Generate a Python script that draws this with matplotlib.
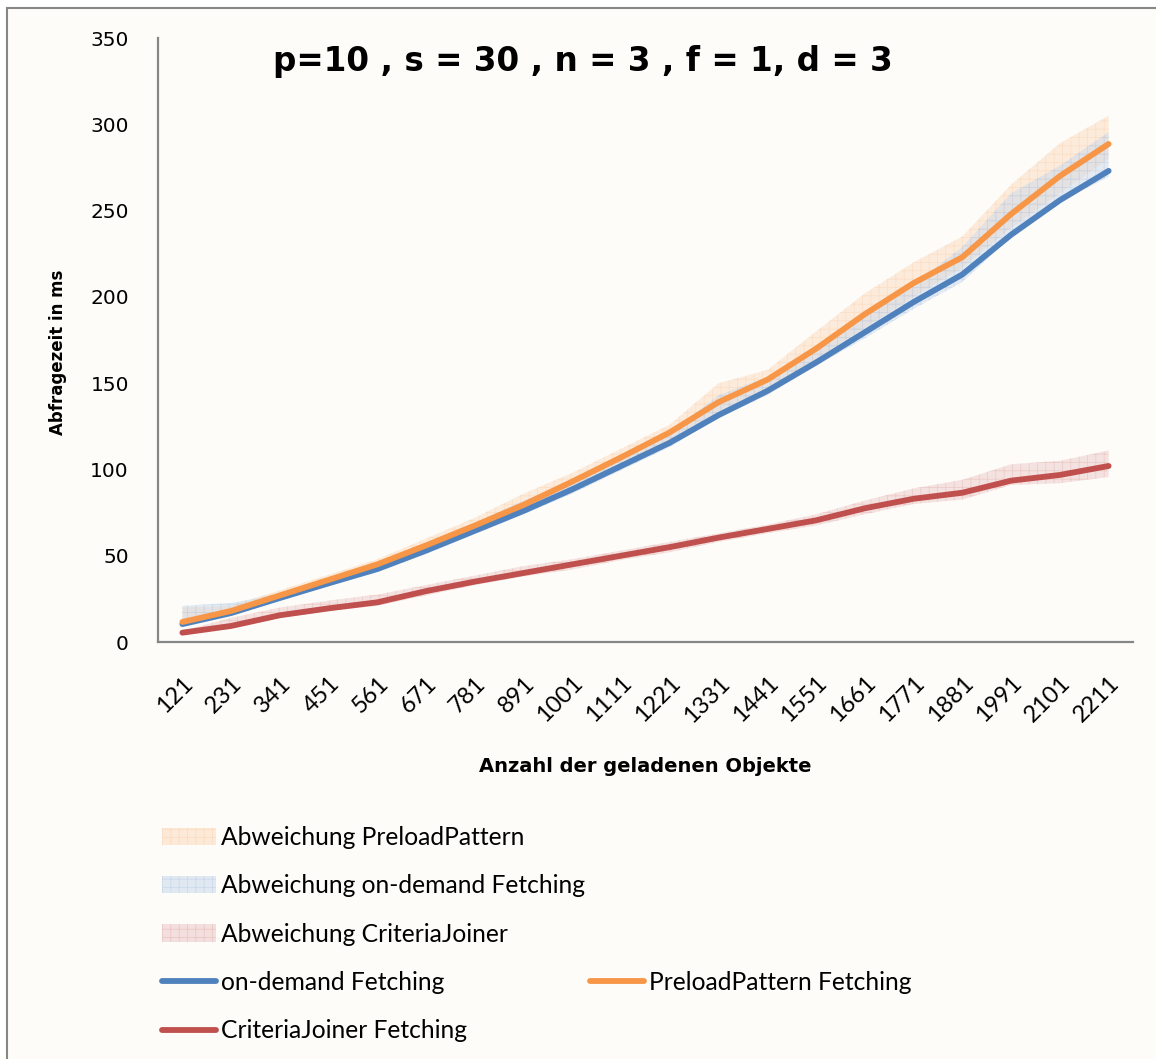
import numpy as np
import matplotlib
matplotlib.use("Agg")
import matplotlib.pyplot as plt
from matplotlib.patches import Rectangle, Patch
from matplotlib.lines import Line2D

# Anzahl der geladenen Objekte
objekte = [121, 231, 341, 451, 561, 671, 781, 891, 1001, 1111,
           1221, 1331, 1441, 1551, 1661, 1771, 1881, 1991, 2101, 2211]

# mittlere Abfragezeit in ms
on_demand = [10.4, 16.8, 25.5, 34, 42.3, 53, 64.5, 76, 88.5, 102,
             115.5, 131.5, 145.5, 162, 179.5, 197, 213, 236, 256, 273]
preload = [11.6, 18, 27, 36, 45, 56, 67.5, 79.5, 93, 107,
           121.5, 139, 152, 170, 190, 208, 223, 248, 270, 288.6]
criteria = [5.4, 9.3, 15.5, 19.5, 23, 29.5, 35, 40, 45, 50,
            55, 60.5, 65.5, 70.5, 77.5, 83, 86.5, 93.5, 96.8, 102]

# Abweichung (min / max)
preload_lo = [10, 16, 24, 33, 42, 52, 63, 75, 88, 102,
              116, 133, 147, 164, 182, 200, 217, 240, 260, 280]
preload_hi = [20, 21, 30, 39, 48, 60, 72, 86, 98, 112,
              126, 150, 157.6, 180, 202, 220, 235, 265, 289, 305]
on_demand_lo = [8.5, 15, 24, 32.5, 40.5, 51, 62.5, 74, 86, 99.5,
                113, 129.8, 143, 160, 176, 193, 208.6, 234.7, 255, 269.5]
on_demand_hi = [21, 22.6, 28, 36, 46, 57, 69, 82, 93, 106,
                121, 143, 153.6, 170, 190, 207, 229, 260, 276, 295.5]
criteria_lo = [4, 8, 14, 18, 21, 27, 33, 38, 42, 47.5,
               52, 58, 63, 67.5, 74, 80, 82.5, 91, 92, 95.6]
criteria_hi = [6.5, 14, 20, 24, 27.5, 33, 38.5, 44, 48, 53,
               58, 63, 68, 74, 82, 89, 94, 103, 105, 111]

blau = "#4F81BD"
orange = "#F79646"
rot = "#C0504D"
grau = "#868686"
hintergrund = "#FDFCF8"

# Flaechen: (Fuellfarbe, Schraffurfarbe)
band_p_farbe = ("#FBD3B0", "#F9C8A0")
band_o_farbe = ("#C5D6EB", "#AFC6E3")
band_c_farbe = ("#EBC4C3", "#E0AAA8")

plt.rcParams["hatch.linewidth"] = 0.5

fig = plt.figure(figsize=(11.56, 10.59), dpi=100, facecolor="white")
fig.patches.append(Rectangle((7 / 1156, -0.1), 1.2, 1.1 - 8 / 1059,
                             transform=fig.transFigure, facecolor=hintergrund,
                             edgecolor=grau, linewidth=1.5, zorder=-10))

ax = fig.add_axes([158 / 1156, 1 - 642 / 1059, (1133 - 158) / 1156, (642 - 38) / 1059])
ax.set_facecolor("none")

x = np.arange(len(objekte))

ax.fill_between(x, preload_lo, preload_hi, facecolor=band_p_farbe[0], alpha=0.4,
                edgecolor=band_p_farbe[1], hatch="++", linewidth=0)
ax.fill_between(x, on_demand_lo, on_demand_hi, facecolor=band_o_farbe[0], alpha=0.45,
                edgecolor=band_o_farbe[1], hatch="++", linewidth=0)
ax.fill_between(x, criteria_lo, criteria_hi, facecolor=band_c_farbe[0], alpha=0.45,
                edgecolor=band_c_farbe[1], hatch="++", linewidth=0)

lw = 4.2
ax.plot(x, on_demand, color=blau, lw=lw, solid_capstyle="round", solid_joinstyle="round")
ax.plot(x, preload, color=orange, lw=lw, solid_capstyle="round", solid_joinstyle="round")
ax.plot(x, criteria, color=rot, lw=lw, solid_capstyle="round", solid_joinstyle="round")

ax.set_xlim(-0.5, len(objekte) - 0.5)
ax.set_ylim(0, 350)
ax.set_yticks(np.arange(0, 351, 50))
ax.set_xticks(x)
ax.set_xticklabels([str(v) for v in objekte], rotation=45, ha="right",
                   rotation_mode="anchor", fontsize=17, family="Lato")
ax.tick_params(axis="x", length=0, pad=22)
ax.tick_params(axis="y", length=0, pad=21, labelsize=14.5)
for lab in ax.get_yticklabels():
    lab.set_family("DejaVu Sans")

for side in ("top", "right"):
    ax.spines[side].set_visible(False)
for side in ("left", "bottom"):
    ax.spines[side].set_color(grau)
    ax.spines[side].set_linewidth(1.6)

fig.text(58 / 1156, 1 - 352 / 1059, "Abfragezeit in ms", rotation=90, ha="center",
         va="center", fontsize=12, fontweight="bold", family="DejaVu Sans")
fig.text(645 / 1156, 1 - 766 / 1059, "Anzahl der geladenen Objekte", ha="center",
         va="center", fontsize=14, fontweight="bold", family="DejaVu Sans")
fig.text(583 / 1156, 1 - 62 / 1059, "p=10 , s = 30 , n = 3 , f = 1, d = 3", ha="center",
         va="center", fontsize=23.5, fontweight="bold", family="DejaVu Sans")

leer = Line2D([], [], color="none")
handles = [
    Patch(facecolor=band_p_farbe[0], alpha=0.45, edgecolor=band_p_farbe[1], hatch="++", linewidth=0),
    Patch(facecolor=band_o_farbe[0], alpha=0.5, edgecolor=band_o_farbe[1], hatch="++", linewidth=0),
    Patch(facecolor=band_c_farbe[0], alpha=0.5, edgecolor=band_c_farbe[1], hatch="++", linewidth=0),
    Line2D([], [], color=blau, lw=lw, solid_capstyle="round"),
    Line2D([], [], color=rot, lw=lw, solid_capstyle="round"),
    leer, leer, leer,
    Line2D([], [], color=orange, lw=lw, solid_capstyle="round"),
    leer,
]
labels = ["Abweichung PreloadPattern", "Abweichung on-demand Fetching",
          "Abweichung CriteriaJoiner", "on-demand Fetching", "CriteriaJoiner Fetching",
          "", "", "", "PreloadPattern Fetching", ""]
fig.legend(handles, labels, ncol=2, loc="upper left",
           bbox_to_anchor=(162 / 1156, 1 - 826 / 1059), frameon=False,
           prop={"family": "Lato", "size": 17.7}, handlelength=2.2, handleheight=0.7,
           handletextpad=0.2, labelspacing=1.03, columnspacing=0.2, borderpad=0,
           borderaxespad=0)

fig.savefig("out.png", dpi=100, facecolor=fig.get_facecolor())
